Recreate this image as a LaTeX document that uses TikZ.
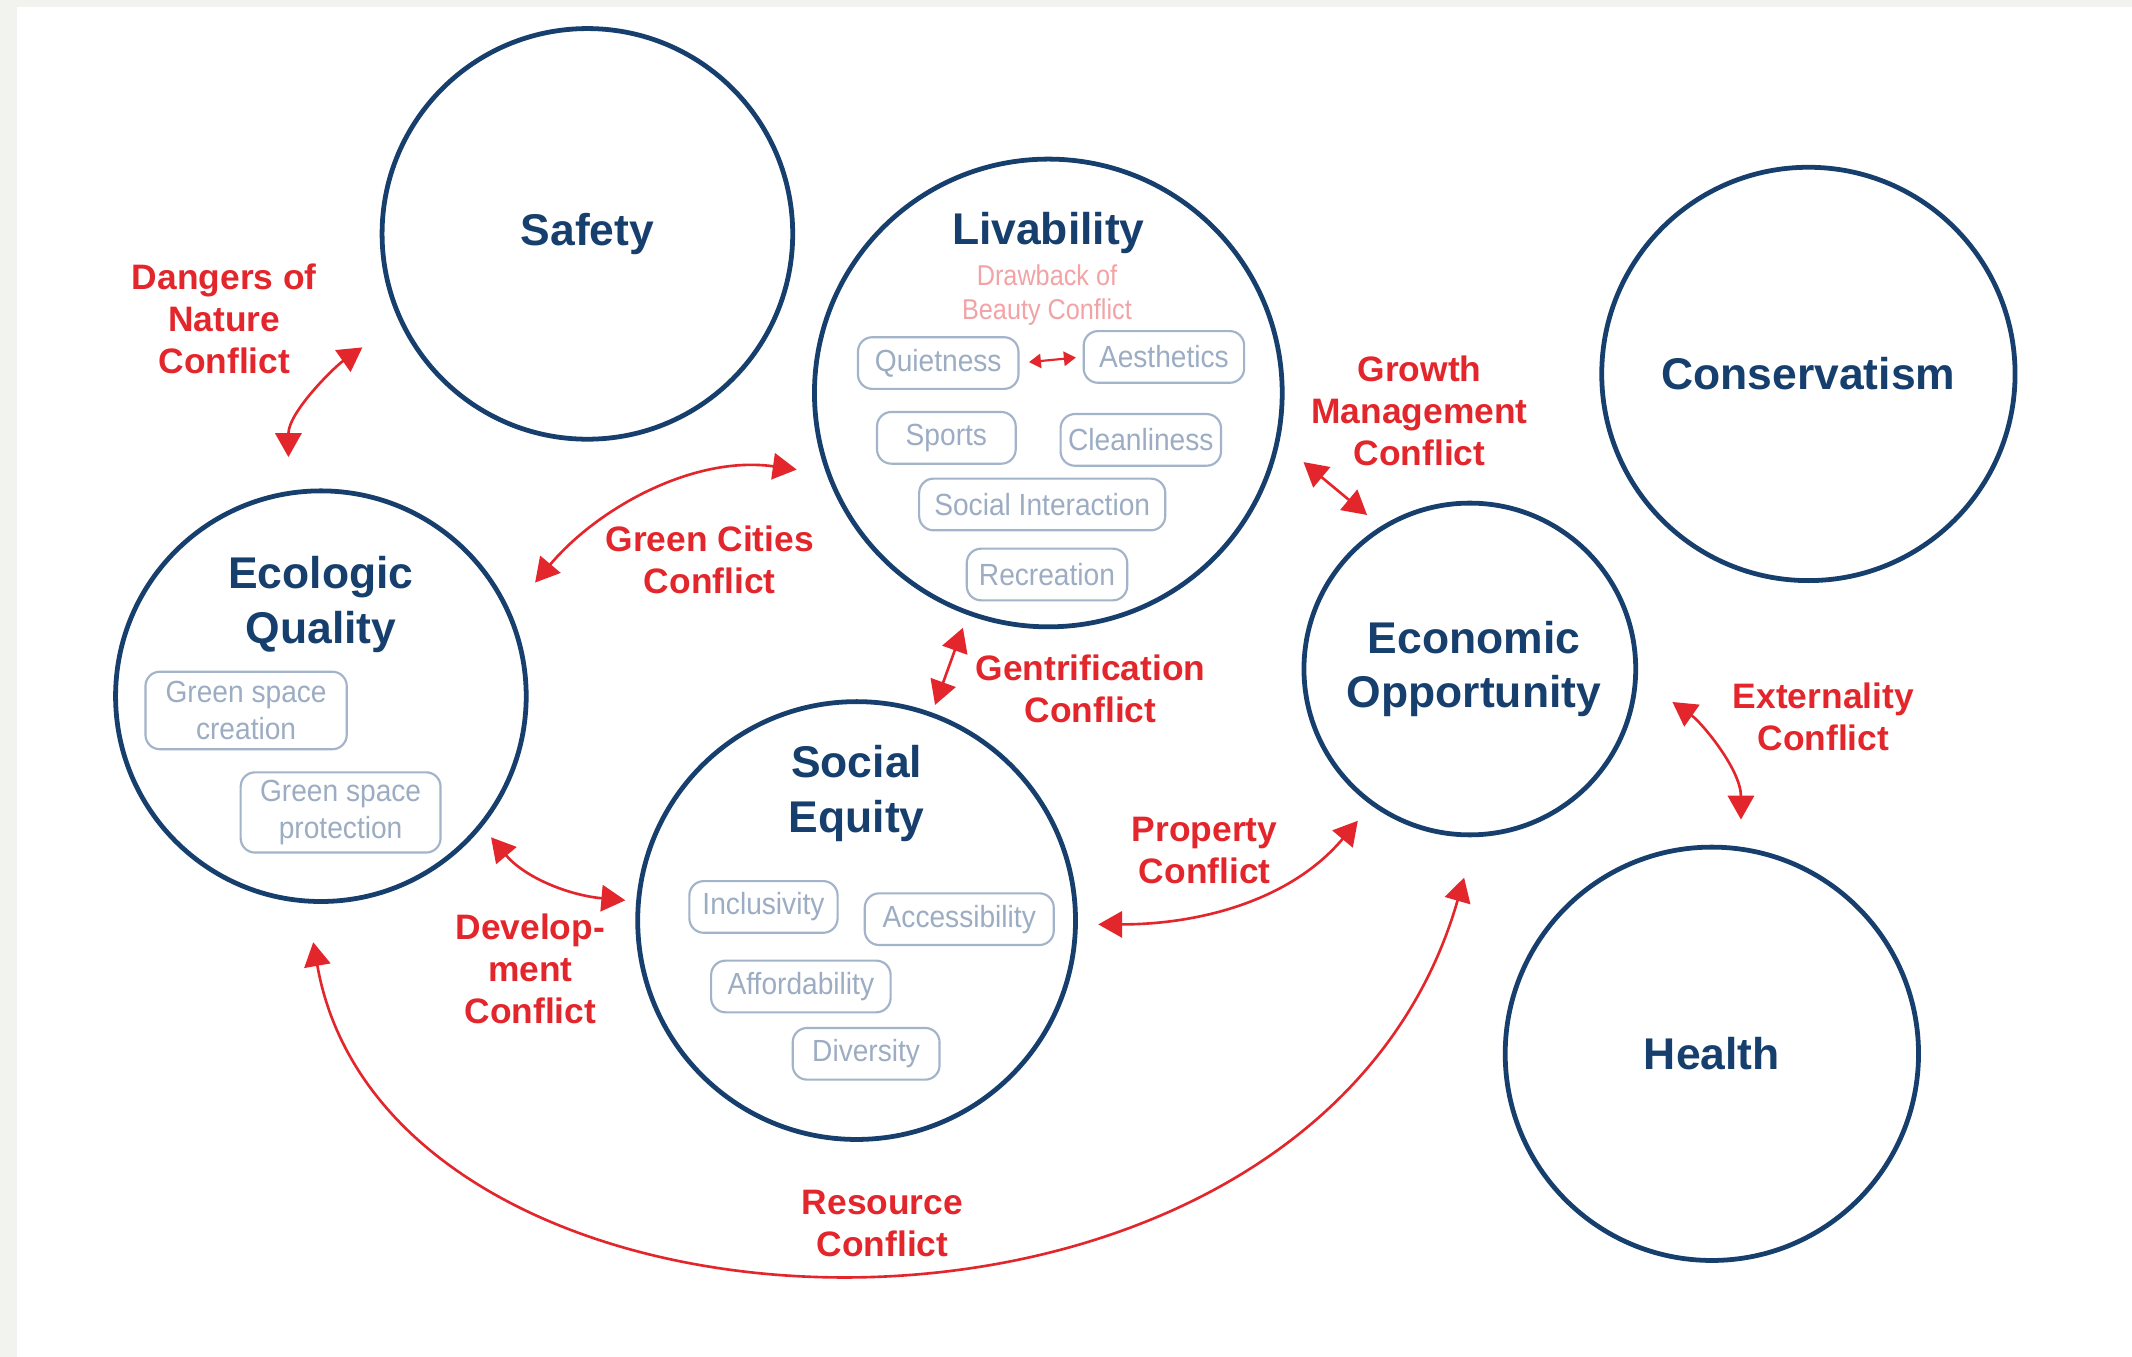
\documentclass[tikz,border=0pt]{standalone}
\usepackage{fontspec}
\setmainfont{Liberation Sans}
\newfontfamily\itemfont[FakeStretch=0.92]{Liberation Sans}
\newfontfamily\notefont[FakeStretch=0.88]{Liberation Sans}
\usepackage{tikz}
\usetikzlibrary{arrows.meta}
\definecolor{navy}{HTML}{173F6D}
\definecolor{conred}{HTML}{E3262B}
\definecolor{itemblue}{HTML}{A3B4CA}
\definecolor{itemtext}{HTML}{9CADC3}
\definecolor{notepink}{HTML}{F2A3A6}
\definecolor{edgegray}{HTML}{F2F3EE}
\tikzset{ value_circ/.style = {circle, draw=navy, line width=1pt, inner sep=0pt, text=navy, align=center, font=\bfseries\fontsize{9.3}{11.4}\selectfont} }
\tikzset{ value_title/.style = {text=navy, align=center, inner sep=0pt, font=\bfseries\fontsize{9.3}{11.4}\selectfont} }
\tikzset{ sub_item/.style = {rectangle, rounded corners=3pt, draw=itemblue, line width=0.45pt, text=itemtext, align=center, inner sep=0pt, minimum height=0.38cm, font=\itemfont\fontsize{6.4}{7.6}\selectfont} }
\tikzset{ conflict_lbl/.style = {text=conred, align=center, inner sep=0pt, font=\bfseries\fontsize{7.4}{8.8}\selectfont} }
\tikzset{ conflict/.style = {<->, >={Triangle[length=5pt, width=5.5pt]}, draw=conred, line width=0.55pt} }

\begin{document}
\begin{tikzpicture}
            \useasboundingbox (0,0) rectangle (15.68,-9.98);
            \fill[white] (0,0) rectangle (15.68,-9.98);
            \fill[edgegray] (0,0) rectangle (0.125,-9.98);
            \fill[edgegray] (0,0) rectangle (15.68,-0.05);
            \node[value_circ, minimum size=3.02cm] (safety) at (4.32,-1.72) {Safety};
            \node[value_circ, minimum size=3.44cm] (liv) at (7.71,-2.89) {};
            \node[value_circ, minimum size=3.04cm] (cons) at (13.30,-2.75) {Conservatism};
            \node[value_circ, minimum size=3.02cm] (eco) at (2.36,-5.12) {};
            \node[value_circ, minimum size=2.44cm, text width=2.2cm] (econ) at (10.81,-4.92) {\hspace*{0.06cm}Economic\\\hspace*{0.06cm}Opportunity};
            \node[value_circ, minimum size=3.22cm] (soc) at (6.30,-6.77) {};
            \node[value_circ, minimum size=3.04cm] (health) at (12.59,-7.75) {Health};
            \node[value_title] (liv_t) at (7.71,-1.71) {Livability};
            \node[value_title] (eco_t) at (2.36,-4.445) {Ecologic\\Quality};
            \node[value_title] (soc_t) at (6.30,-5.835) {Social\\Equity};
            \node[text=notepink, align=center, inner sep=0pt, font=\notefont\fontsize{6}{7.1}\selectfont] (beauty) at (7.70,-2.17) {Drawback of\\Beauty Conflict};
            \node[sub_item, minimum width=1.18cm] (quiet) at (6.90,-2.67) {Quietness};
            \node[sub_item, minimum width=1.18cm] (aes) at (8.56,-2.625) {Aesthetics};
            \node[sub_item, minimum width=1.02cm] (sports) at (6.96,-3.22) {Sports};
            \node[sub_item, minimum width=1.18cm] (clean) at (8.39,-3.235) {Cleanliness};
            \node[sub_item, minimum width=1.81cm] (interact) at (7.665,-3.71) {Social Interaction};
            \node[sub_item, minimum width=1.18cm] (recr) at (7.70,-4.225) {Recreation};
            \node[sub_item, minimum width=1.48cm, minimum height=0.57cm] (create) at (1.81,-5.225) {Green space\\creation};
            \node[sub_item, minimum width=1.47cm, minimum height=0.59cm] (protect) at (2.505,-5.975) {Green space\\protection};
            \node[sub_item, minimum width=1.09cm] (incl) at (5.615,-6.67) {Inclusivity};
            \node[sub_item, minimum width=1.39cm] (access) at (7.055,-6.76) {Accessibility};
            \node[sub_item, minimum width=1.32cm] (afford) at (5.89,-7.255) {Affordability};
            \node[sub_item, minimum width=1.08cm] (divers) at (6.37,-7.75) {Diversity};
            \node[conflict_lbl] (dangers) at (1.65,-2.345) {Dangers of\\Nature\\Conflict};
            \node[conflict_lbl] (greencity) at (5.22,-4.115) {Green Cities\\Conflict};
            \node[conflict_lbl] (growth) at (10.44,-3.02) {Growth\\Management\\Conflict};
            \node[conflict_lbl] (gentri) at (8.02,-5.065) {Gentrification\\Conflict};
            \node[conflict_lbl] (extern) at (13.41,-5.275) {Externality\\Conflict};
            \node[conflict_lbl] (property) at (8.86,-6.255) {Property\\Conflict};
            \node[conflict_lbl] (develop) at (3.90,-7.125) {Develop-\\ment\\Conflict};
            \node[conflict_lbl] (resource) at (6.49,-9.00) {Resource\\Conflict};
            \draw[conflict, shorten <=0.25cm, shorten >=0.33cm] (eco.99) to[out=90, in=215] (safety.205);
            \draw[conflict, shorten <=0.28cm, shorten >=0.22cm] (eco.24) to[out=50, in=172] (liv.200);
            \draw[conflict, shorten <=0.23cm, shorten >=0.13cm] (liv.348) to (econ.122);
            \draw[conflict, shorten <=0.10cm, shorten >=0.06cm] (liv.250) to (soc.70);
            \draw[conflict, shorten <=0.31cm, shorten >=0.20cm] (econ.357) to[out=-35, in=90] (health.82);
            \draw[conflict, shorten <=0.15cm, shorten >=0.15cm] (soc.359) to[out=0, in=230] (econ.234);
            \draw[conflict, shorten <=0.10cm, shorten >=0.08cm] (eco.321) to[out=-50, in=175] (soc.175);
            \draw[conflict, shorten <=0.29cm, shorten >=0.31cm] (eco.266) .. controls +(-80:3.55) and +(254:4.35) .. (econ.272);
            \draw[conflict, >={Triangle[length=2.5pt, width=3pt]}, line width=0.45pt, shorten <=0.07cm, shorten >=0.05cm] (quiet.east) to (aes.west);
\end{tikzpicture}
\end{document}
